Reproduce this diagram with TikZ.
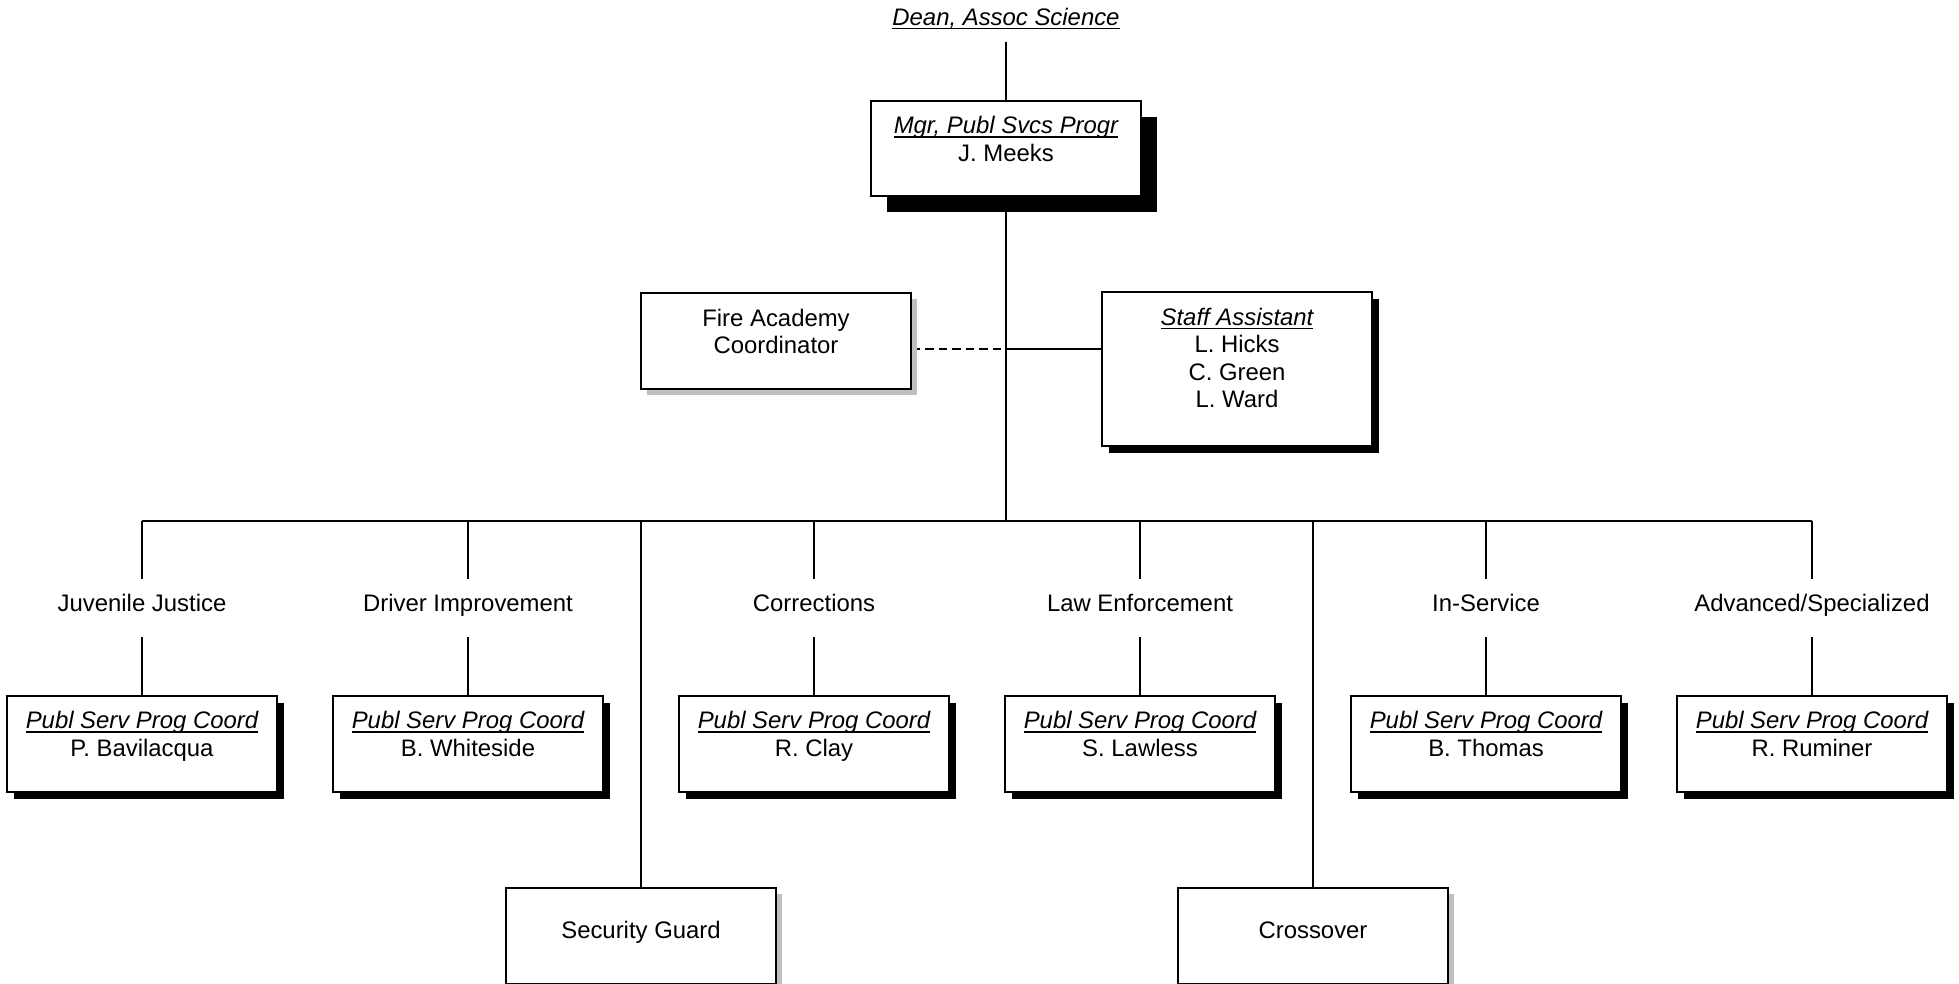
\documentclass[tikz,border=0pt]{standalone}
\usepackage{fontspec}
\setmainfont{Liberation Sans}
\usetikzlibrary{shadows,backgrounds}
\newsavebox{\titlebox}
\newcommand{\posttitle}[1]{\sbox{\titlebox}{\itshape #1}\rlap{\rule[-0.08cm]{\wd\titlebox}{0.75pt}}\usebox{\titlebox}}
\newcommand{\boxtext}[1]{\begin{tabular}[t]{@{}c@{}}#1\end{tabular}}

\begin{document}
\begin{tikzpicture}[x=0.02cm, y=-0.02cm,
  every node/.style={font=\fontsize{13.6pt}{15.6pt}\selectfont, inner xsep=0pt, inner ysep=0pt},
  box/.style={draw, fill=white, line width=0.9pt, minimum width=5.4cm, anchor=north},
  heavy/.style={box, drop shadow={shadow xshift=0.32cm, shadow yshift=-0.32cm, fill=black, opacity=1}},
  dark/.style={box, drop shadow={shadow xshift=0.14cm, shadow yshift=-0.14cm, fill=black, opacity=1}},
  light/.style={box, drop shadow={shadow xshift=0.12cm, shadow yshift=-0.12cm, fill=black!25, opacity=1}},
  lab/.style={text height=0.3cm, text depth=0.15cm, minimum height=1.16cm},
  link/.style={line width=0.8pt}]
  \useasboundingbox (0,0) rectangle (1959,983);

  % Head of the chart
  \node[anchor=south, inner ysep=0.23cm, text height=0.35cm, text depth=0.1cm] (dean) at (1006,42) {\posttitle{Dean, Assoc Science}};
  \node[heavy, text height=0.66cm, text depth=1.24cm] (mgr) at (1006,100) {\boxtext{\posttitle{Mgr, Publ Svcs Progr}\\J. Meeks}};

  % Side boxes
  \node[light, text height=0.67cm, text depth=1.25cm] (fire) at (776,292) {\boxtext{Fire Academy\\Coordinator}};
  \node[dark, text height=0.67cm, text depth=2.41cm] (staff) at (1237,291) {\boxtext{\posttitle{Staff Assistant}\\L. Hicks\\C. Green\\L. Ward}};

  % points on the trunk
  \coordinate (jn) at (1006,349);
  \coordinate (bus) at (1006,521);

  % Program names
  \node[lab] (juv) at (142,608) {Juvenile Justice};
  \node[lab] (drv) at (468,608) {Driver Improvement};
  \node[lab] (cor) at (814,608) {Corrections};
  \node[lab] (law) at (1140,608) {Law Enforcement};
  \node[lab] (ins) at (1486,608) {In-Service};
  \node[lab] (adv) at (1812,608) {Advanced/Specialized};

  % Coordinators
  \node[dark, text height=0.66cm, text depth=1.26cm] (pb) at (142,695) {\boxtext{\posttitle{Publ Serv Prog Coord}\\P. Bavilacqua}};
  \node[dark, text height=0.66cm, text depth=1.26cm] (bw) at (468,695) {\boxtext{\posttitle{Publ Serv Prog Coord}\\B. Whiteside}};
  \node[dark, text height=0.66cm, text depth=1.26cm] (rc) at (814,695) {\boxtext{\posttitle{Publ Serv Prog Coord}\\R. Clay}};
  \node[dark, text height=0.66cm, text depth=1.26cm] (sl) at (1140,695) {\boxtext{\posttitle{Publ Serv Prog Coord}\\S. Lawless}};
  \node[dark, text height=0.66cm, text depth=1.26cm] (bt) at (1486,695) {\boxtext{\posttitle{Publ Serv Prog Coord}\\B. Thomas}};
  \node[dark, text height=0.66cm, text depth=1.26cm] (rr) at (1812,695) {\boxtext{\posttitle{Publ Serv Prog Coord}\\R. Ruminer}};

  % Bottom row
  \node[light, text height=1.01cm, text depth=0.91cm] (sec) at (641,887) {Security Guard};
  \node[light, text height=1.01cm, text depth=0.91cm] (cro) at (1313,887) {Crossover};

  \begin{scope}[on background layer]
    % trunk and side links
    \draw[link] (dean) -- (mgr);
    \draw[link] (mgr) -- (bus);
    \draw[link, dash pattern=on 0.17cm off 0.1cm] (fire.east |- jn) -- (jn);
    \draw[link] (jn) -- (staff.west |- jn);

    % bus line
    \draw[link] (juv |- bus) -- (adv |- bus);

    % drops to the programs
    \draw[link] (juv |- bus) -- (juv);
    \draw[link] (drv |- bus) -- (drv);
    \draw[link] (cor |- bus) -- (cor);
    \draw[link] (law |- bus) -- (law);
    \draw[link] (ins |- bus) -- (ins);
    \draw[link] (adv |- bus) -- (adv);
    \draw[link] (juv) -- (pb);
    \draw[link] (drv) -- (bw);
    \draw[link] (cor) -- (rc);
    \draw[link] (law) -- (sl);
    \draw[link] (ins) -- (bt);
    \draw[link] (adv) -- (rr);

    % long drops
    \draw[link] (sec |- bus) -- (sec);
    \draw[link] (cro |- bus) -- (cro);
  \end{scope}

\end{tikzpicture}
\end{document}
